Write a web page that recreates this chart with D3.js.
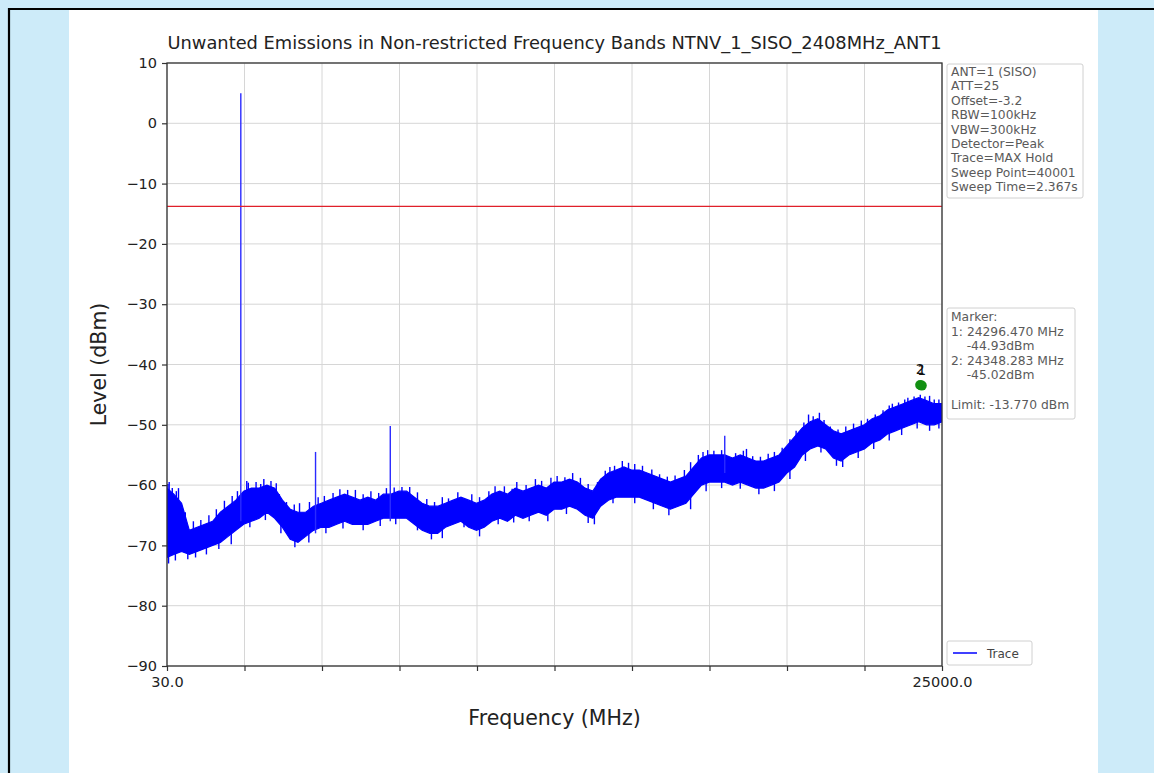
<!DOCTYPE html>
<html><head><meta charset="utf-8">
<script src="https://cdn.jsdelivr.net/npm/d3@7"></script>
<style>
html,body{margin:0;padding:0;background:#cdebf9;}
svg{display:block;}
text{font-family:"DejaVu Sans",sans-serif;}
</style></head><body>
<svg id="c" width="1154" height="773"></svg>
<script>
const chartTitle = "Unwanted Emissions in Non-restricted Frequency Bands NTNV_1_SISO_2408MHz_ANT1";
const xLabel = "Frequency (MHz)";
const yLabel = "Level (dBm)";
const yTicks = [10,0,-10,-20,-30,-40,-50,-60,-70,-80,-90];
const xTicks = [30,2527,5024,7521,10018,12515,15012,17509,20006,22503,25000];
const xTickLabels = ["30.0","","","","","","","","","","25000.0"];
const limitLevel = -13.77;

// trace envelope (max-hold noise band)
const envFreq = [30,250,500,750,1000,1250,1500,1750,2000,2250,2500,2750,3000,3250,3500,3750,4000,4250,4500,4750,5000,5250,5500,5750,6000,6250,6500,6750,7000,7250,7500,7750,8000,8250,8500,8750,9000,9250,9500,9750,10000,10250,10500,10750,11000,11250,11500,11750,12000,12250,12500,12750,13000,13250,13500,13750,14000,14250,14500,14750,15000,15250,15500,15750,16000,16250,16500,16750,17000,17250,17500,17750,18000,18250,18500,18750,19000,19250,19500,19750,20000,20250,20500,20750,21000,21250,21500,21750,22000,22250,22500,22750,23000,23250,23500,23750,24000,24250,24500,24750,25000];
const envUpper = [-60.5,-61.5,-63,-67.5,-67,-66.5,-66,-64.5,-63.5,-62.5,-61,-60.5,-60.5,-60,-60.5,-62.5,-64,-64.5,-64.5,-63.5,-63,-62.5,-62,-61.5,-62,-62.5,-62,-62.5,-61.5,-61.5,-61,-61,-62,-63,-63.5,-63.5,-63,-62.5,-62,-62.5,-63,-62.5,-61.5,-61,-61.5,-60.5,-61,-60.5,-60,-60.5,-59.5,-59.5,-59,-59.5,-60.5,-61,-59,-58,-57.5,-57,-57.5,-57.5,-58,-58.5,-59,-59.5,-59,-58.5,-57,-55.5,-55,-55,-55,-55.5,-55,-55.5,-56,-56,-55.5,-55,-53.5,-52,-50.5,-49.5,-49,-50,-51,-51.5,-51,-50.5,-50,-49,-48.5,-47.5,-47,-46.5,-46,-45.5,-46,-46.5,-46.5];
const envLower = [-72,-71.5,-71,-71.5,-71,-70.5,-70,-69.5,-68.5,-67.5,-66.5,-66,-65.5,-64.5,-65.5,-67,-69,-69.5,-68.5,-67.5,-67,-67,-66.5,-66,-66.5,-66.5,-66.5,-66,-65.5,-65.5,-65.5,-65.5,-66.5,-67.5,-68,-68,-67,-66.5,-66,-67,-67.5,-67,-66,-65.5,-66,-65,-65.5,-65,-64.5,-65,-64,-64,-63.5,-64,-65,-65.5,-63.5,-62.5,-62,-62,-62,-62,-62.5,-63,-63.5,-64,-63.5,-63,-61.5,-60,-59.5,-59.5,-59.5,-60,-59.5,-60,-60.5,-60.5,-60,-59.5,-58,-57,-55,-54,-53.5,-54,-55.5,-56,-55,-54.5,-54,-53,-52.5,-51.5,-51,-50.5,-50,-49.5,-50,-50,-49.5];

// discrete emissions (harmonics / spurs): frequency, peak, foot level
const spurFreq = [2408,4816,7224,18000];
const spurPeak = [5.0,-54.5,-50.2,-51.8];
const spurFoot = [-66,-68,-66,-58];

// noise peaks above the band
const hairFreq = [60,100,200,330,400,620,880,1120,1380,1620,1880,2130,2300,2600,2650,2900,3050,3150,3380,3550,3650,3880,4130,4300,4620,4900,5100,5380,5600,5850,6100,6350,6600,6850,7100,7350,7600,7850,8100,8400,8650,8900,9100,9400,9850,10100,10400,10600,10900,11150,11300,11600,11900,12100,12400,12600,12850,13100,13350,13600,13900,14150,14300,14450,14700,14900,15100,15350,15650,15900,16150,16400,16700,16900,17150,17300,17450,17650,17900,18350,18600,18700,18900,19150,19400,19600,19850,20100,20300,20550,20700,20850,21050,21200,21400,21650,21900,22150,22400,22600,22850,23100,23300,23400,23600,23800,23900,24100,24300,24450,24600,24750,24900];
const hairPeak = [-59.8,-59.5,-60.5,-61,-60.5,-64.5,-66,-65.8,-65,-64,-62.6,-61.8,-61,-59.3,-59.6,-59.5,-59.8,-59,-59.3,-59.7,-61.5,-62.8,-63.2,-63,-62.8,-62,-61.8,-61.3,-60.7,-60.8,-60.8,-61.5,-61,-61.3,-60.5,-60.4,-60.3,-60.3,-61.2,-62.3,-62.8,-62,-62.2,-61.2,-61.5,-62,-61,-60.2,-60.2,-60.6,-59.5,-60,-59,-59.3,-58.8,-58.5,-58.7,-58,-58.8,-59.8,-59.5,-57.6,-57,-56.8,-56,-56.3,-56.5,-56.8,-57.4,-58.2,-58.6,-58.4,-57.5,-56.2,-55,-54.5,-54.2,-54.3,-54.2,-54.7,-54.3,-54,-55.2,-55.3,-54.8,-54.5,-53.8,-52.4,-51,-49.6,-48.3,-48.6,-48,-49.2,-50.3,-50.8,-50.3,-49.8,-49.3,-49,-48.3,-47.6,-46.8,-46.5,-46.3,-45.8,-45.5,-45.3,-45,-45.3,-45.2,-45.8,-45.8];

// noise dips below the band
const dipFreq = [80,300,700,950,1300,1700,2100,2700,3200,3700,4150,4600,5150,5700,6350,6900,7400,8100,8550,8900,9600,10100,10700,11200,11700,12300,12900,13600,13800,14400,15100,15700,16200,16900,17400,17900,18500,19100,19600,20100,20600,21100,21600,21800,22300,22800,23300,23700,24200,24600,24900];
const dipLevel = [-73,-72.5,-72.3,-72,-71.5,-70.6,-69.8,-67,-65.8,-68,-70.3,-69.5,-68,-67.2,-67.5,-66.8,-66.5,-67.5,-69,-68.8,-67,-68.5,-66.5,-66.2,-66,-66,-64.8,-66.3,-66.5,-63,-63,-64,-65,-64,-61,-60.5,-60.6,-61.5,-61,-59,-56,-54.6,-56.8,-57,-55.5,-54,-52.6,-51.7,-50.6,-51,-50.6];

// markers
const markerFreq = [24296.470, 24348.283];
const markerPlotLevel = [-43.4, -43.5];
const markerIds = ["2","1"];

const infoLines = ["ANT=1 (SISO)","ATT=25","Offset=-3.2","RBW=100kHz","VBW=300kHz","Detector=Peak","Trace=MAX Hold","Sweep Point=40001","Sweep Time=2.367s"];
const markerLines = ["Marker:","1: 24296.470 MHz","    -44.93dBm","2: 24348.283 MHz","    -45.02dBm","","Limit: -13.770 dBm"];
const legendLabel = "Trace";

const svg = d3.select("#c");
// page frame
svg.append("rect").attr("x",69).attr("y",10).attr("width",1029).attr("height",763).attr("fill","#ffffff");
svg.append("line").attr("x1",8).attr("x2",1154).attr("y1",9).attr("y2",9).attr("stroke","#000").attr("stroke-width",2.2);
svg.append("line").attr("x1",9).attr("x2",9).attr("y1",8).attr("y2",773).attr("stroke","#000").attr("stroke-width",2.2);

const L=167,R=942,T=63,B=666;
const x = d3.scaleLinear().domain([30,25000]).range([L,R]);
const y = d3.scaleLinear().domain([-90,10]).range([B,T]);

const defs = svg.append("defs");
defs.append("clipPath").attr("id","pc").append("rect").attr("x",L).attr("y",T).attr("width",R-L).attr("height",B-T);

// grid
const g = svg.append("g");
g.selectAll(".gx").data(xTicks).join("line").attr("x1",d=>x(d)).attr("x2",d=>x(d)).attr("y1",T).attr("y2",B).attr("stroke","#d6d6d6").attr("stroke-width",1);
g.selectAll(".gy").data(yTicks).join("line").attr("x1",L).attr("x2",R).attr("y1",d=>y(d)).attr("y2",d=>y(d)).attr("stroke","#d6d6d6").attr("stroke-width",1);

const plot = svg.append("g").attr("clip-path","url(#pc)");
const band = envFreq.map((f,i)=>({f, hi:envUpper[i], lo:envLower[i]}));
plot.append("path").datum(band)
  .attr("d", d3.area().x(d=>x(d.f)).y0(d=>y(d.lo)).y1(d=>y(d.hi)))
  .attr("fill","#0000ff").attr("stroke","#0000ff").attr("stroke-width",1.2);
plot.append("g").selectAll("line").data(hairFreq).join("line")
  .attr("x1",d=>x(d)).attr("x2",d=>x(d))
  .attr("y1",(d,i)=>y(hairPeak[i])).attr("y2",(d,i)=>y(hairPeak[i])+20)
  .attr("stroke","#0000ff").attr("stroke-width",1.4);
plot.append("g").selectAll("line").data(dipFreq).join("line")
  .attr("x1",d=>x(d)).attr("x2",d=>x(d))
  .attr("y1",(d,i)=>y(dipLevel[i])).attr("y2",(d,i)=>y(dipLevel[i])-16)
  .attr("stroke","#0000ff").attr("stroke-width",1.4);
plot.append("g").selectAll("line").data(spurFreq).join("line")
  .attr("x1",d=>x(d)).attr("x2",d=>x(d))
  .attr("y1",(d,i)=>y(spurPeak[i])).attr("y2",(d,i)=>y(spurFoot[i]))
  .attr("stroke","#2a2aff").attr("stroke-width",1.4);

// limit line
plot.append("line").attr("x1",L).attr("x2",R).attr("y1",y(limitLevel)).attr("y2",y(limitLevel)).attr("stroke","#e0202a").attr("stroke-width",1.2);

// markers
plot.append("g").selectAll("circle").data(markerFreq).join("circle")
  .attr("cx",d=>x(d)).attr("cy",(d,i)=>y(markerPlotLevel[i])).attr("r",5).attr("fill","#129012");
svg.append("g").selectAll("text").data(markerFreq).join("text")
  .attr("x",d=>x(d)).attr("y",(d,i)=>y(markerPlotLevel[i])-11)
  .attr("text-anchor","middle").attr("font-size",14).attr("fill","#111").text((d,i)=>markerIds[i]);

// spines
svg.append("rect").attr("x",L).attr("y",T).attr("width",R-L).attr("height",B-T).attr("fill","none").attr("stroke","#333").attr("stroke-width",1.3);

// axes
const ya = svg.append("g").attr("transform",`translate(${L},0)`)
  .call(d3.axisLeft(y).tickValues(yTicks).tickSize(5).tickPadding(5).tickFormat(d3.format("d")));
const xa = svg.append("g").attr("transform",`translate(0,${B})`)
  .call(d3.axisBottom(x).tickValues(xTicks).tickSize(5).tickPadding(6).tickFormat((d,i)=>xTickLabels[i]));
[ya,xa].forEach(a=>{
  a.select(".domain").remove();
  a.selectAll(".tick line").attr("stroke","#333").attr("stroke-width",1.2);
  a.selectAll(".tick text").attr("font-family","DejaVu Sans").attr("font-size",14.5).attr("fill","#222");
});

// titles
svg.append("text").attr("x",(L+R)/2).attr("y",49).attr("text-anchor","middle")
  .attr("font-size",17).attr("fill","#222").attr("textLength",774).attr("lengthAdjust","spacingAndGlyphs").text(chartTitle);
svg.append("text").attr("x",(L+R)/2).attr("y",725).attr("text-anchor","middle")
  .attr("font-size",20.5).attr("fill","#222").text(xLabel);
svg.append("text").attr("transform",`translate(106,${(T+B)/2}) rotate(-90)`).attr("text-anchor","middle")
  .attr("font-size",20.5).attr("fill","#222").text(yLabel);

// info boxes
function box(x0,y0,w,h){
  svg.append("rect").attr("x",x0).attr("y",y0).attr("width",w).attr("height",h).attr("rx",2)
    .attr("fill","#fff").attr("stroke","#d0d0d0").attr("stroke-width",1);
}
box(947,64,136,134);
svg.append("g").selectAll("text").data(infoLines).join("text")
  .attr("x",951).attr("y",(d,i)=>76+i*14.4).attr("font-size",12.3).attr("fill","#5a5a5a").style("white-space","pre").text(d=>d);
box(947,308,128,111);
svg.append("g").selectAll("text").data(markerLines).join("text")
  .attr("x",951).attr("y",(d,i)=>321+i*14.6).attr("font-size",12.3).attr("fill","#5a5a5a").style("white-space","pre").text(d=>d);

// legend
box(947,641,85,24);
svg.append("line").attr("x1",953).attr("x2",977).attr("y1",653).attr("y2",653).attr("stroke","#0000ff").attr("stroke-width",1.5);
svg.append("text").attr("x",987).attr("y",657.5).attr("font-size",12).attr("fill","#444").text(legendLabel);
</script>
</body></html>
